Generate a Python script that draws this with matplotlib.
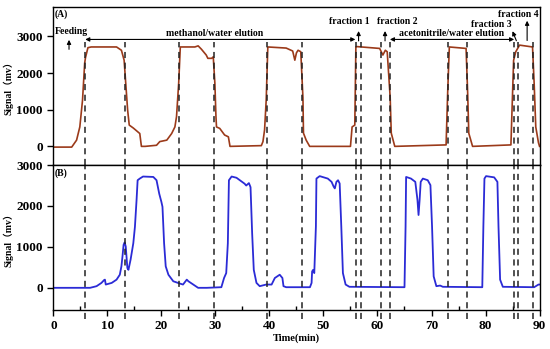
import matplotlib
matplotlib.use('Agg')
import matplotlib.pyplot as plt

plt.rcParams['font.family'] = ['Liberation Serif', 'Noto Sans CJK SC']
plt.rcParams['font.weight'] = 'bold'

# panel (A) trace
time_a = [0, 3.4, 4.3, 4.9, 5.4, 5.8, 5.95, 6.4, 7.0, 11.7, 12.6, 13.1, 13.4, 13.75, 14.05,
          14.8, 16.0, 16.3, 17.0, 19.1, 19.7, 21.0, 21.9, 22.5, 22.8, 23.2, 23.5, 26.2,
          26.8, 27.4, 28.3, 28.6, 29.3, 29.6, 29.9, 30.1, 30.2, 30.8, 31.7, 32.4, 32.7,
          38.5, 38.8, 39.1, 39.4, 39.7, 43.1, 44.3, 44.7, 45.0, 45.3, 45.8, 46.2, 46.3,
          46.8, 47.45, 55.0, 55.3, 55.8, 56.0, 56.2, 60.4, 61.0, 61.45, 61.8, 62.35,
          62.55, 63.2, 72.7, 73.0, 73.3, 76.4, 76.7, 76.9, 77.6, 84.7, 85.2, 85.6, 86.3,
          88.7, 89.0, 89.3, 89.8, 90.0]
signal_a = [-20, -20, 170, 530, 1260, 2270, 2420, 2690, 2710, 2710, 2620, 2350, 1720, 990, 580,
            500, 350, 0, 0, 30, 130, 170, 350, 530, 810, 1720, 2710, 2710,
            2740, 2650, 2490, 2400, 2400, 2440, 1720, 810, 530, 490, 310, 260, 0,
            20, 130, 450, 1260, 2710, 2680, 2600, 2350, 2550, 2620, 2580, 1330, 360,
            170, 0, 0, 530, 580, 2710, 2720, 2670, 2490, 2620, 2580, 1330,
            360, 0, 40, 1500, 2710, 2670, 1420, 360, 0, 40, 2350, 2580, 2760,
            2710, 1720, 530, 100, 0]

# panel (B) trace
time_b = [0, 6.8, 8.0, 8.9, 9.4, 9.55, 9.7, 10.8, 11.7, 12.3, 12.6, 12.8, 13.0, 13.2, 13.4,
          13.7, 13.9, 14.3, 14.8, 15.1, 15.4, 15.6, 16.0, 16.6, 18.5, 19.1, 19.6, 20.0,
          20.2, 20.5, 20.8, 21.3, 22.2, 23.4, 24.0, 24.7, 25.0, 25.9, 26.8, 28.4, 31.1,
          31.6, 32.0, 32.3, 32.5, 33.0, 33.9, 35.4, 35.7, 36.2, 36.5, 36.8, 37.1, 37.6,
          38.2, 39.4, 40.4, 41.0, 41.9, 42.4, 42.6, 43.1, 47.5, 47.8, 47.9, 48.1, 48.3,
          48.6, 48.7, 49.3, 50.8, 51.5, 51.9, 52.1, 52.4, 52.7, 53.0, 53.3, 53.6, 54.1,
          54.8, 65.0, 65.2, 65.3, 66.2, 67.0, 67.4, 67.6, 67.8, 68.0, 68.4, 69.3, 69.8,
          70.1, 70.4, 70.9, 71.6, 72.1, 79.4, 79.6, 79.8, 80.1, 81.6, 82.2, 82.4, 82.7,
          83.2, 89.0, 89.8, 90.0]
signal_b = [0, 0, 40, 120, 190, 200, 80, 120, 200, 320, 525, 770, 1050, 1110, 1010,
            485, 440, 690, 1090, 1490, 2140, 2630, 2670, 2720, 2710, 2630, 2300, 2100,
            1980, 1090, 525, 320, 160, 105, 80, 200, 160, 80, 0, 0, 15,
            240, 360, 1090, 2630, 2720, 2690, 2545, 2500, 2560, 2460, 1330, 440, 120,
            40, 80, 80, 240, 320, 240, 40, 15, 15, 120, 400, 440, 360,
            1500, 2670, 2730, 2670, 2590, 2470, 2430, 2590, 2630, 2550, 1500, 360, 80,
            25, 15, 1500, 2710, 2670, 2590, 2150, 1780, 2150, 2590, 2670, 2630, 2510,
            1500, 280, 40, 55, 25, 15, 1500, 2670, 2730, 2700, 2590, 1500, 200,
            25, 15, 80, 80]

# valve switching times (dashed lines)
cut_times = [5.9, 13.3, 23.2, 29.8, 39.5, 46.1, 56.1, 56.9, 60.6, 62.4, 73.0, 76.6, 85.2, 86.1, 88.7]

fig = plt.figure(figsize=(5.5, 3.49), dpi=100)
ax1 = fig.add_axes([0.097, 0.527, 0.884, 0.453])
ax2 = fig.add_axes([0.097, 0.112, 0.884, 0.415])

ax1.plot(time_a, signal_a, color='#9B3A1A', lw=1.2)
ax2.plot(time_b, signal_b, color='#2B2BD6', lw=1.3)

dash = (0, (4, 3))
ax1.vlines(cut_times, -510, 2850, colors='#222222', linestyles=dash, lw=1.1)
ax2.vlines(cut_times, -770, 3000, colors='#222222', linestyles=dash, lw=1.1, clip_on=False)

for ax in (ax1, ax2):
    ax.set_xlim(0, 90)
    ax.set_yticks([0, 1000, 2000, 3000])
    ax.tick_params(axis='y', direction='out', length=4, width=1, labelsize=9.5)
    ax.set_ylabel('Signal（mv）', fontsize=7, fontweight='bold', labelpad=2)
    for s in ax.spines.values():
        s.set_linewidth(1.0)

ax1.set_ylim(-510, 3800)
ax2.set_ylim(-540, 3000)
ax1.set_xticks([])

ax2.set_xticks(range(0, 91, 10))
ax2.set_xticks(range(5, 90, 10), minor=True)
ax2.tick_params(axis='x', which='major', direction='out', length=4, width=1, labelsize=9.5)
ax2.tick_params(axis='x', which='minor', direction='in', length=3, width=1)
ax2.set_xlabel('Time(min)', fontsize=7.5, fontweight='bold', labelpad=1)

# annotations panel (A)
fs = 7
ax1.text(0.3, 3600, '(A)', fontsize=fs, va='center', ha='left')
ax2.text(0.3, 2810, '(B)', fontsize=fs, va='center', ha='left')

ax1.text(0.2, 3140, 'Feeding', fontsize=fs, va='center', ha='left')
ax1.annotate('', xy=(2.9, 2980), xytext=(2.9, 2570),
             arrowprops=dict(arrowstyle='-|>', lw=0.8, color='black', mutation_scale=6))

ax1.text(29.9, 3090, 'methanol/water elution', fontsize=fs, va='center', ha='center')
ax1.annotate('', xy=(5.9, 2915), xytext=(55.9, 2915),
             arrowprops=dict(arrowstyle='<|-|>', lw=0.8, color='black', mutation_scale=6,
                             shrinkA=0, shrinkB=0))

ax1.text(54.7, 3400, 'fraction 1', fontsize=fs, va='center', ha='center')
ax1.annotate('', xy=(56.5, 3220), xytext=(56.5, 2800),
             arrowprops=dict(arrowstyle='-|>', lw=0.8, color='black', mutation_scale=6))

ax1.text(63.6, 3400, 'fraction 2', fontsize=fs, va='center', ha='center')
ax1.annotate('', xy=(61.4, 3220), xytext=(61.4, 2800),
             arrowprops=dict(arrowstyle='-|>', lw=0.8, color='black', mutation_scale=6))

ax1.text(73.8, 3090, 'acetonitrile/water elution', fontsize=fs, va='center', ha='center')
ax1.annotate('', xy=(62.3, 2915), xytext=(85.3, 2915),
             arrowprops=dict(arrowstyle='<|-|>', lw=0.8, color='black', mutation_scale=6,
                             shrinkA=0, shrinkB=0))

ax1.text(81.1, 3320, 'fraction 3', fontsize=fs, va='center', ha='center')
ax1.annotate('', xy=(84.8, 3210), xytext=(85.9, 2810),
             arrowprops=dict(arrowstyle='-|>', lw=0.8, color='black', mutation_scale=6))

ax1.text(86.0, 3600, 'fraction 4', fontsize=fs, va='center', ha='center')
ax1.annotate('', xy=(87.7, 3500), xytext=(87.7, 2810),
             arrowprops=dict(arrowstyle='-|>', lw=0.8, color='black', mutation_scale=6))

fig.savefig('out.png', dpi=100)
